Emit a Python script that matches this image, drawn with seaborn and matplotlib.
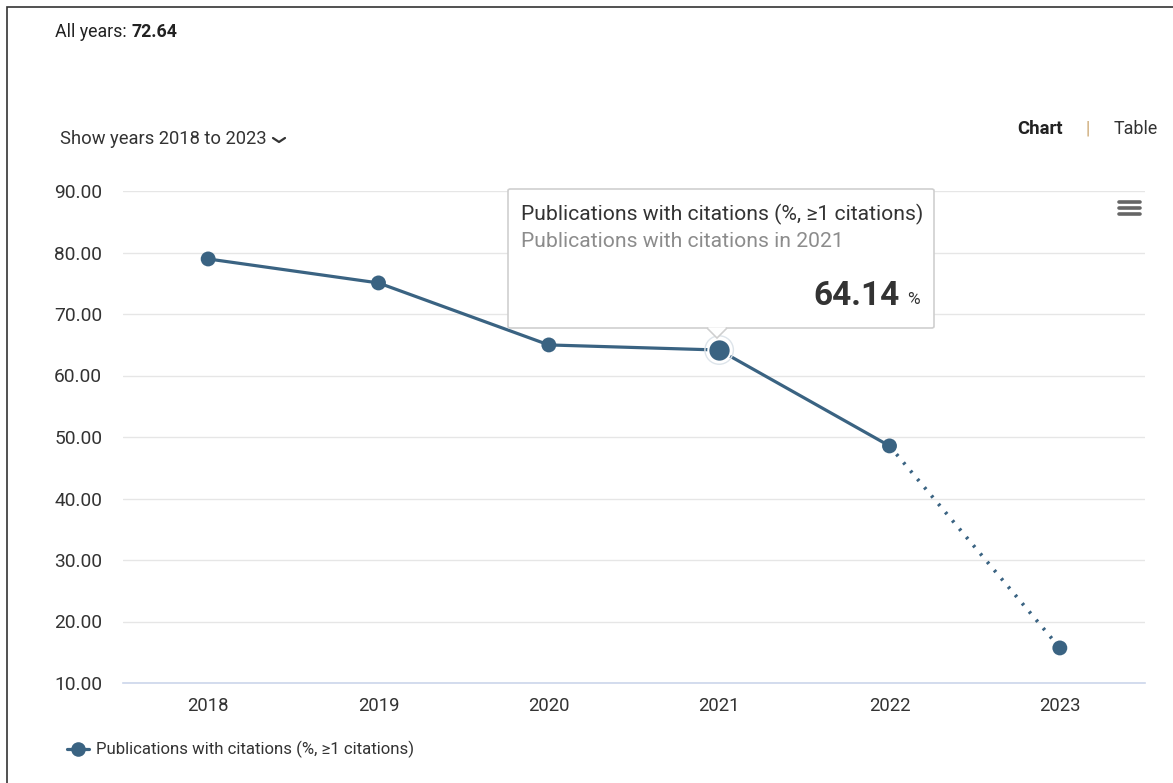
import matplotlib
matplotlib.use("Agg")
import matplotlib.pyplot as plt
import seaborn as sns
import pandas as pd
from matplotlib.patches import FancyBboxPatch, Polygon, Rectangle
from matplotlib.lines import Line2D

years = [2018, 2019, 2020, 2021, 2022, 2023]
values = [78.95, 75.05, 64.97, 64.14, 48.55, 15.7]
y_ticks = [10, 20, 30, 40, 50, 60, 70, 80, 90]
series_name = "Publications with citations (%, \u22651 citations)"
highlight_year = 2021
all_years_value = "72.64"

W, H = 1173, 783
LINE = "#3a6382"
sns.set_theme(style="white")
plt.rcParams['font.family'] = ['Roboto', 'DejaVu Sans']

fig = plt.figure(figsize=(W / 100, H / 100), dpi=100)
fig.patch.set_facecolor("white")


def fx(x):
    return x / W


def fy(y):
    return 1 - y / H


ax = fig.add_axes([fx(123), fy(683), (1145 - 123) / W, (683 - 191) / H])
df = pd.DataFrame({"year": years, "value": values})
solid = df[df.year <= 2022]
dotted = df[df.year >= 2022]

sns.lineplot(data=solid, x="year", y="value", ax=ax, color=LINE, linewidth=2.3, zorder=3)
sns.lineplot(data=dotted, x="year", y="value", ax=ax, color=LINE, linewidth=2.6,
             linestyle=(0, (0.7, 2.3)), zorder=3)
normal = df[df.year != highlight_year]
hl = df[df.year == highlight_year]
sns.scatterplot(data=normal, x="year", y="value", ax=ax, color=LINE, s=115,
                edgecolor="none", zorder=4, clip_on=False)
sns.scatterplot(data=hl, x="year", y="value", ax=ax, color=LINE, s=260,
                edgecolor="white", linewidth=1.5, zorder=5, clip_on=False)
sns.scatterplot(data=hl, x="year", y="value", ax=ax, color="none", s=420,
                edgecolor="#dde4ea", linewidth=1.0, zorder=4, clip_on=False)

ax.set_xlim(2017.5, 2023.5)
ax.set_ylim(10, 90)
ax.set_xticks(years)
ax.set_xticklabels([str(y) for y in years])
ax.set_yticks(y_ticks)
ax.set_yticklabels([f"{v:.2f}" for v in y_ticks])
ax.set_xlabel("")
ax.set_ylabel("")
ax.grid(axis="y", color="#e6e6e6", linewidth=1.0)
ax.grid(axis="x", visible=False)
for s in ["top", "right", "left"]:
    ax.spines[s].set_visible(False)
ax.spines["bottom"].set_color("#ccd6eb")
ax.spines["bottom"].set_linewidth(1.2)
ax.tick_params(axis="y", length=0, pad=15, labelsize=13.8, labelcolor="#333333")
ax.tick_params(axis="x", length=0, pad=10, labelsize=13.3, labelcolor="#333333")
ax.set_facecolor("white")

# Outer frame
fig.patches.append(Rectangle((fx(7), fy(790)), (1190 - 7) / W, (790 - 7) / H,
                             transform=fig.transFigure, fill=False,
                             edgecolor="#333333", linewidth=1.2))

# Header texts
t1 = fig.text(fx(55), fy(32), "All years: ", fontsize=12.8, color="#222222", va="center", ha="left")
fig.canvas.draw()
bb = t1.get_window_extent()
fig.text(bb.x1 / W, fy(32), all_years_value, fontsize=12.8, color="#222222",
         fontweight="bold", va="center", ha="left")
fig.text(fx(60), fy(139), "Show years 2018 to 2023", fontsize=13.2, color="#333333",
         va="center", ha="left")
fig.lines.append(Line2D([fx(273), fx(279), fx(285)], [fy(138), fy(142), fy(138)],
                        transform=fig.transFigure, color="#333333", linewidth=1.6))
fig.text(fx(1063), fy(129), "Chart", fontsize=13.3, color="#222222", fontweight="bold",
         va="center", ha="right")
fig.text(fx(1088), fy(129), "|", fontsize=13, color="#c9a36a", va="center", ha="center")
fig.text(fx(1158), fy(129), "Table", fontsize=12.9, color="#333333", va="center", ha="right")

# Hamburger menu
for yy in [202, 208, 214]:
    fig.lines.append(Line2D([fx(1119), fx(1140)], [fy(yy), fy(yy)], transform=fig.transFigure,
                            color="#666666", linewidth=2.6, solid_capstyle="round"))

# Tooltip
box = FancyBboxPatch((fx(508), fy(328)), (934 - 508) / W, (328 - 189) / H,
                     boxstyle="round,pad=0,rounding_size=0.002", transform=fig.transFigure,
                     facecolor="white", edgecolor="#cfcfcf", linewidth=1.2, zorder=10)
fig.patches.append(box)
fig.patches.append(Polygon([(fx(707), fy(328)), (fx(717), fy(338)), (fx(727), fy(328))],
                           closed=False, transform=fig.transFigure, facecolor="white",
                           edgecolor="#cfcfcf", linewidth=1.2, zorder=11))
fig.patches.append(Polygon([(fx(708), fy(327.3)), (fx(717), fy(336.5)), (fx(726), fy(327.3))],
                           closed=True, transform=fig.transFigure, facecolor="white",
                           edgecolor="none", zorder=12))
fig.text(fx(521), fy(214), series_name, fontsize=15.2, color="#333333", va="center",
         ha="left", zorder=13)
fig.text(fx(521), fy(241), f"Publications with citations in {highlight_year}", fontsize=15.2,
         color="#8c8c8c", va="center", ha="left", zorder=13)
fig.text(fx(900), fy(296), f"{values[years.index(highlight_year)]:.2f}", fontsize=24,
         color="#333333", fontweight="bold", va="center", ha="right", zorder=13)
fig.text(fx(907), fy(299), "%", fontsize=12.5, color="#333333", va="center", ha="left", zorder=13)

# Legend
fig.lines.append(Line2D([fx(67), fx(89)], [fy(749), fy(749)], transform=fig.transFigure,
                        color=LINE, linewidth=2.3))
fig.lines.append(Line2D([fx(78)], [fy(749)], transform=fig.transFigure, color=LINE,
                        marker="o", markersize=10.5, markeredgewidth=0, linestyle="none"))
fig.text(fx(96), fy(749), series_name, fontsize=12.1, color="#333333", va="center", ha="left")

fig.savefig("out.png", dpi=100, facecolor="white")
